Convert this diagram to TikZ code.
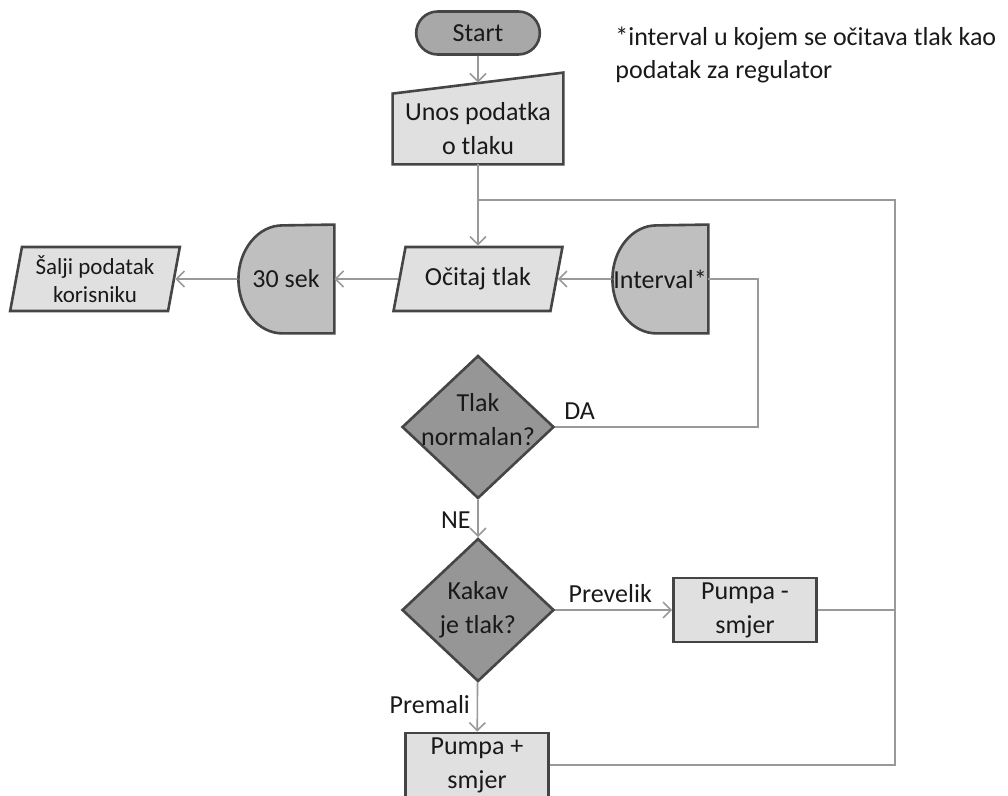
\documentclass[tikz,border=0pt]{standalone}
\usepackage{fontspec}
\setmainfont{Carlito}
\usetikzlibrary{shapes.geometric,shapes.misc,arrows.meta,backgrounds}

\definecolor{lightbox}{gray}{0.88}
\definecolor{midbox}{gray}{0.75}
\definecolor{startbox}{gray}{0.66}
\definecolor{darkbox}{gray}{0.59}
\definecolor{edgecol}{gray}{0.27}
\definecolor{wirecol}{gray}{0.6}
\definecolor{ink}{gray}{0.1}

\tikzset{
  every node/.style={font=\fontsize{13}{17}\selectfont, text=ink},
  outline/.style={draw=edgecol, line width=1.3pt},
  terminal/.style={rounded rectangle, outline, fill=startbox, minimum width=68.5pt, minimum height=21.5pt},
  process/.style={rectangle, outline, fill=lightbox, minimum width=71.5pt, minimum height=32pt, inner sep=1pt, align=center},
  inout/.style={trapezium, trapezium left angle=71, trapezium right angle=109, trapezium stretches=true, outline, fill=lightbox, minimum width=85pt, minimum height=32pt, inner sep=1pt, align=center},
  salji/.style={trapezium left angle=79, trapezium right angle=101, font=\fontsize{11.5}{14}\selectfont},
  decision/.style={diamond, outline, fill=darkbox, minimum width=76pt, minimum height=71.5pt, inner sep=0pt},
  delaybox/.style={minimum width=48pt, minimum height=54pt, inner sep=0pt},
  manualbox/.style={minimum width=85pt, minimum height=35pt, inner sep=0pt, align=center},
  notetext/.style={anchor=north west, align=left, inner sep=0pt, font=\fontsize{13}{16.5}\selectfont},
  wire/.style={draw=wirecol, line width=0.8pt},
  flow/.style={wire, -{Straight Barb[length=4pt,width=8pt]}},
}

\begin{document}
\begin{tikzpicture}[x=0.5pt,y=-0.5pt]
\useasboundingbox (0,0) rectangle (1008,796);

\node[terminal] (start) at (478,33) {Start};
\node[manualbox] (unos) at (478,129) {Unos podatka\\o tlaku};
\node[inout] (citaj) at (478,279) {Očitaj tlak};
\node[inout,salji] (salji) at (95,279) {Šalji podatak\\korisniku};
\node[delaybox] (sek) at (286,279) {30 sek};
\node[delaybox] (interval) at (660,279) {Interval*};
\node[decision,label={[align=center,yshift=3.5pt]center:Tlak\\normalan?}] (tlak) at (478,427) {};
\node[decision,label={[align=center]center:Kakav\\je tlak?}] (kakav) at (478,610) {};
\node[process] (pminus) at (745,610) {Pumpa -\\smjer};
\node[process] (pplus) at (477,765) {Pumpa +\\smjer};
\node[notetext] (note) at (615,27) {*interval u kojem se očitava tlak kao\\podatak za regulator};

\coordinate (merge) at (478,200);
\coordinate (loop) at (895,200);
\coordinate (da) at (758,427);

% shapes drawn behind the text
\begin{scope}[on background layer]
  \draw[outline,fill=lightbox] (unos.south west) -- (unos.south east) -- ([yshift=10.5pt]unos.north east) -- (unos.north west) -- cycle;
  \foreach \d in {sek,interval}
    \draw[outline,fill=midbox] (\d.north east) -- (\d.south east) -- ++(-52,0) arc[start angle=270,end angle=90,x radius=22pt,y radius=27pt] -- cycle;
\end{scope}

\draw[flow] (start) -- ([yshift=5.5pt]unos.north);
\draw[flow] (unos) -- (citaj);
\draw[flow] (citaj) -- (sek);
\draw[flow] (sek) -- (salji);
\draw[flow] (interval) -- (citaj);
\draw[wire] (tlak.east) -- node[pos=0.12,above] {DA} (da) |- (interval.east);
\draw[flow] (tlak) -- node[pos=0.54,left] {NE} (kakav);
\draw[flow] (kakav) -- node[pos=0.47,above] {Prevelik} (pminus);
\draw[flow] (kakav) -- node[pos=0.46,left] {Premali} (pplus);

\draw[wire] (pminus) -- (pminus -| loop);
\draw[wire] (pplus) -| (loop) -- (merge);

\end{tikzpicture}
\end{document}
